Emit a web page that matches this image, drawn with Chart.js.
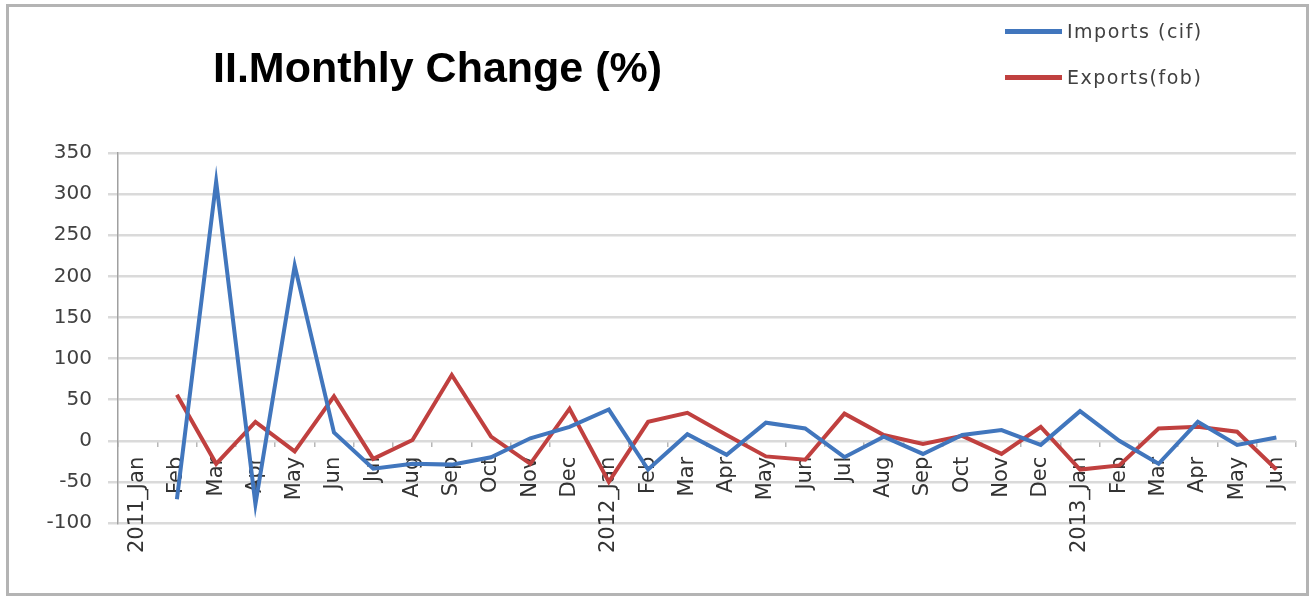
<!DOCTYPE html>
<html>
<head>
<meta charset="utf-8">
<script src="https://cdn.jsdelivr.net/npm/chart.js@4.4.1/dist/chart.umd.min.js"></script>
<style>
  body { margin: 0; background: #fff; }
  #wrap { position: relative; width: 1312px; height: 596px; }
  #frame { position: absolute; left: 6px; top: 4px; width: 1303px; height: 592px; border: 3px solid #b4b4b4; box-sizing: border-box; pointer-events: none; }
  #title { position: absolute; left: 213px; top: 46px; font: bold 43px 'Liberation Sans', Arial, sans-serif; line-height: 43px; color: #000; white-space: nowrap; }
  .leg { position: absolute; left: 1005px; height: 20px; display: flex; align-items: center; white-space: nowrap; }
  .leg span.line { display: inline-block; width: 57px; height: 5px; margin-right: 5px; }
  .leg span.txt { font: 19px 'DejaVu Sans', sans-serif; letter-spacing: 1.5px; color: #404040; }
</style>
</head>
<body>
<div id="wrap">
  <canvas id="monthlyChangeChart" width="1312" height="596"></canvas>
  <div id="title">II.Monthly Change (%)</div>
  <div id="legendBox"></div>
  <div id="frame"></div>
</div>
<script>
// categories (months, Jan 2011 - Jun 2013)
var months = ['2011_Jan', 'Feb', 'Mar', 'Apr', 'May', 'Jun', 'Jul', 'Aug', 'Sep', 'Oct', 'Nov', 'Dec',
              '2012_Jan', 'Feb', 'Mar', 'Apr', 'May', 'Jun', 'Jul', 'Aug', 'Sep', 'Oct', 'Nov', 'Dec',
              '2013_Jan', 'Feb', 'Mar', 'Apr', 'May', 'Jun'];

// monthly change in %
var importsCif = [null, -71, 315, -77, 213, 10, -34, -28, -29, -20, 3, 17,
                  38, -35, 8, -17, 22, 15, -20, 5, -16, 7, 13, -5,
                  36, 0, -28, 23, -5, 4];
var exportsFob = [null, 56, -28, 23, -13, 54, -22, 1, 80, 5, -28, 39,
                  -50, 23, 34, 7, -19, -23, 33, 7, -4, 6, -16, 17,
                  -35, -30, 15, 17, 11, -35];

var yMin = -100, yMax = 350, yStep = 50;

var blue = '#4176bd';
var red = '#c0403f';

var ctx = document.getElementById('monthlyChangeChart').getContext('2d');
var monthlyChart = new Chart(ctx, {
    type: 'line',
    data: {
        labels: months,
        datasets: [{
            label: 'Imports (cif)',
            data: importsCif,
            borderColor: blue,
            backgroundColor: blue,
            borderWidth: 4,
            pointRadius: 0,
            fill: false,
            tension: 0
        }, {
            label: 'Exports(fob)',
            data: exportsFob,
            borderColor: red,
            backgroundColor: red,
            borderWidth: 4,
            pointRadius: 0,
            fill: false,
            tension: 0
        }]
    },
    options: {
        responsive: false,
        animation: false,
        layout: { padding: { left: 30, top: 153, right: 16, bottom: 73 } },
        plugins: {
            legend: { display: false },
            title: { display: false },
            tooltip: { enabled: false }
        },
        scales: {
            x: {
                position: { y: 0 },  // category axis crosses at zero
                offset: true,
                border: { display: false },
                grid: { offset: true, drawOnChartArea: false, tickLength: 6, color: '#b8b8b8', lineWidth: 1.5 },
                ticks: {
                    autoSkip: false,
                    minRotation: 90,
                    maxRotation: 90,
                    padding: 10,
                    color: '#333',
                    font: { family: 'DejaVu Sans', size: 21 }
                }
            },
            y: {
                min: yMin,
                max: yMax,
                afterFit: function (scale) { scale.width = 88; },  // wide enough so "-100" is not clipped
                border: { color: '#a0a0a0', width: 1.5 },
                grid: { color: '#dadada', lineWidth: 2.5, tickLength: 10 },
                ticks: {
                    stepSize: yStep,
                    padding: 16,
                    color: '#404040',
                    font: { family: 'DejaVu Sans', size: 20 }
                }
            }
        }
    }
});

// legend in the upper right, built from the datasets
var legendBox = document.getElementById('legendBox');
monthlyChart.data.datasets.forEach(function (ds, i) {
    var row = document.createElement('div');
    row.className = 'leg';
    row.style.top = (21 + i * 46) + 'px';
    row.innerHTML = '<span class="line" style="background:' + ds.borderColor + '"></span><span class="txt">' + ds.label + '</span>';
    legendBox.appendChild(row);
});
</script>
</body>
</html>
